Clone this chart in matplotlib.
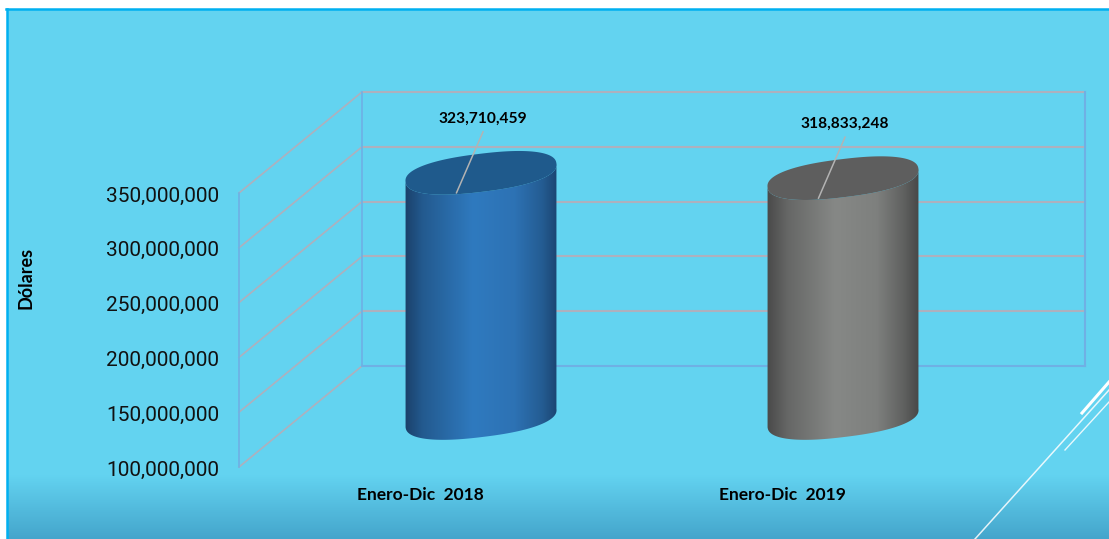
import numpy as np
import matplotlib

matplotlib.use('Agg')

import matplotlib.pyplot as plt
from matplotlib.colors import LinearSegmentedColormap
from matplotlib.patches import Polygon

periods = ['Enero-Dic  2018', 'Enero-Dic  2019']
values = [323710459, 318833248]
y_ticks = [100000000, 150000000, 200000000, 250000000, 300000000, 350000000]

body_stops = [
    [(0, '#1a3f68'), (0.12, '#235a8f'), (0.45, '#2f7abf'), (0.72, '#2d72b4'), (0.9, '#245c92'), (1, '#1b4470')],
    [(0, '#484848'), (0.14, '#666766'), (0.45, '#868886'), (0.72, '#7e807e'), (0.9, '#5f605f'), (1, '#464646')],
]
lid_colors = ['#1f5a8c', '#5e5e5e']

W, H = 1109, 539
# scale of the axes: one bar step is 362 px, 250M dollars take 274 px
STEP_PX = 362.0
USD_PER_PX = 250000000 / 274.0
FIRST_BAR_PX = 481
FLOOR_PX = 418


def x_px(px):
    return (px - FIRST_BAR_PX) / STEP_PX


def y_px(px):
    return 100000000 + (FLOOR_PX - px) * USD_PER_PX


def ellipse(cx, cy, s, a=76.0, b=19.0, angle=np.radians(7), power=0.85):
    # tilted, slightly squared ellipse; offsets in pixels, returned in data units
    u = a * np.sign(np.cos(s)) * np.abs(np.cos(s)) ** power
    v = b * np.sign(np.sin(s)) * np.abs(np.sin(s)) ** power
    dx = u * np.cos(angle) - v * np.sin(angle)
    dy = u * np.sin(angle) + v * np.cos(angle)
    return cx + dx / STEP_PX, cy + dy * USD_PER_PX


fig = plt.figure(figsize=(W / 100, H / 100), dpi=100, facecolor='white')
ax = fig.add_axes([0, 0, 1, 1])
ax.set_xlim(x_px(0), x_px(W))
ax.set_ylim(y_px(H), y_px(0))
ax.axis('off')

# slide background with the darker band at the bottom
rows = np.linspace(0, 1, 256)
shade = np.clip((rows * 529 - 465) / 64, 0, 1)
light = np.array([0.39, 0.83, 0.945])
dark = np.array([0.27, 0.65, 0.80])
bg = (light[None, :] * (1 - shade[:, None]) + dark[None, :] * shade[:, None]).reshape(-1, 1, 3)
ax.imshow(bg, extent=[x_px(7), x_px(W), y_px(H), y_px(9)], aspect='auto', zorder=0)
ax.plot([x_px(7), x_px(7)], [y_px(H), y_px(9)], color='#00b0f0', lw=1.8, zorder=1)
ax.plot([x_px(6), x_px(W)], [y_px(9), y_px(9)], color='#00b0f0', lw=1.8, zorder=1)

# corner decoration
ax.plot([x_px(1082), x_px(W)], [y_px(413), y_px(382)], color='white', lw=2.2, zorder=1)
ax.plot([x_px(975), x_px(W)], [y_px(539), y_px(390)], color='white', lw=1.1, alpha=0.85, zorder=1)
ax.plot([x_px(1065), x_px(W)], [y_px(450), y_px(402)], color='white', lw=1.0, alpha=0.85, zorder=1)

# 3D walls: gridlines run along the side wall and across the back
front_shift = 49 * USD_PER_PX
back_shift = 52 * USD_PER_PX
grid_color = '#aeb0bd'
wall_color = '#6fb0e4'
for v in y_ticks:
    ax.plot([x_px(239), x_px(362)], [v - front_shift, v + back_shift], color=grid_color, lw=1.2, zorder=2)
    if v > y_ticks[0]:
        ax.plot([x_px(362), x_px(1085)], [v + back_shift, v + back_shift], color=grid_color, lw=1.5, zorder=2)
bottom, top = y_ticks[0], y_ticks[-1]
ax.plot([x_px(239), x_px(239)], [bottom - front_shift, top - front_shift], color=wall_color, lw=1.2, zorder=2)
ax.plot([x_px(362), x_px(362)], [bottom + back_shift, top + back_shift], color=wall_color, lw=1.2, zorder=2)
ax.plot([x_px(1085), x_px(1085)], [bottom + back_shift, top + back_shift], color=wall_color, lw=1.5, zorder=2)
ax.plot([x_px(362), x_px(1085)], [bottom + back_shift, bottom + back_shift], color=wall_color, lw=1.5, zorder=2)

for v in y_ticks:
    ax.text(x_px(219), v - front_shift - 3 * USD_PER_PX, f'{v:,}', ha='right', va='center', family='Roboto',
            fontsize=15, color='#111111', zorder=6)
ax.text(x_px(26), y_px(278), 'Dólares', rotation=90, ha='center', va='center', family='Lato',
        fontweight='bold', fontsize=13, color='black', zorder=6)

# cylinders
for i, (period, value) in enumerate(zip(periods, values)):
    lower = np.linspace(np.pi, 2 * np.pi, 120)
    bx, by = ellipse(i, y_ticks[0], lower)
    tx, ty = ellipse(i, value, lower[::-1])
    outline = np.column_stack([np.concatenate([bx, tx]), np.concatenate([by, ty])])
    body = Polygon(outline, closed=True, facecolor='none', edgecolor='none', zorder=3)
    ax.add_patch(body)

    cmap = LinearSegmentedColormap.from_list(f'body{i}', body_stops[i])
    half = 77.0 / STEP_PX
    im = ax.imshow(np.linspace(0, 1, 256).reshape(1, -1), cmap=cmap, aspect='auto', zorder=3,
                   interpolation='bilinear',
                   extent=[i - half, i + half, y_ticks[0] - 30 * USD_PER_PX, value + 30 * USD_PER_PX])
    im.set_clip_path(body)

    lx, ly = ellipse(i, value, np.linspace(0, 2 * np.pi, 240))
    ax.fill(lx, ly, color=lid_colors[i], lw=0, zorder=4)

    # value label with its leader line
    ax.plot([i - 24.5 / STEP_PX, i + 2 / STEP_PX], [value - 20 * USD_PER_PX, value + 41 * USD_PER_PX],
            color='#b3b3b3', lw=1.1, zorder=5)
    ax.text(i + 2 / STEP_PX, value + 54 * USD_PER_PX, f'{value:,}', ha='center', va='center', family='Lato',
            fontweight='bold', fontsize=11.2, color='black', zorder=6)
    ax.text(i - 61 / STEP_PX, y_px(495), period, ha='center', va='center', family='Lato', fontweight='bold',
            fontsize=12.5, color='black', zorder=6)

ax.set_xlim(x_px(0), x_px(W))
ax.set_ylim(y_px(H), y_px(0))
fig.savefig('out.png', dpi=100, facecolor='white')
